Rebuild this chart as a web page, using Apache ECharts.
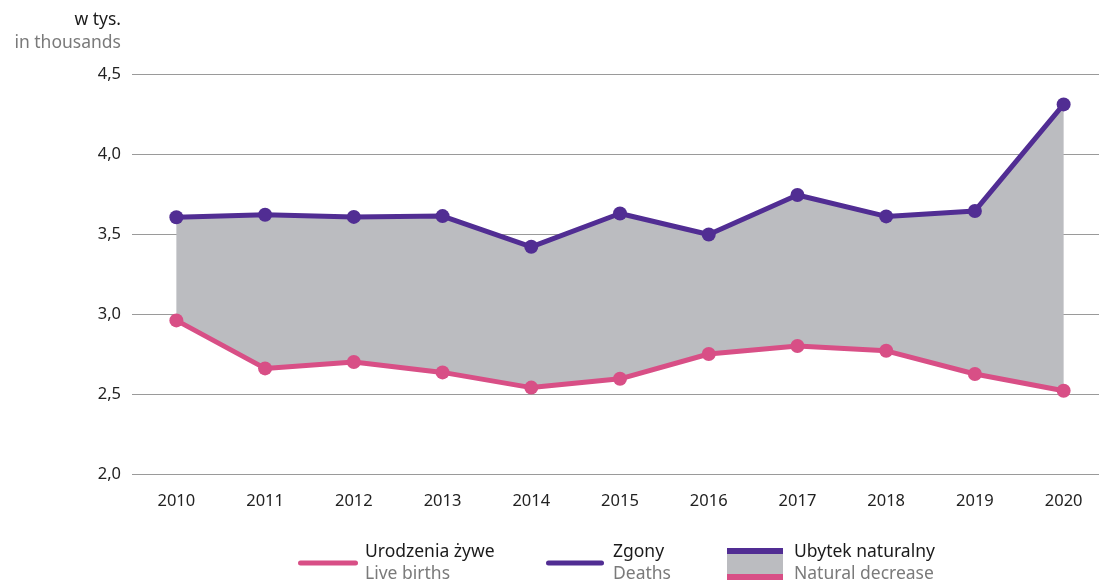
<!DOCTYPE html>
<html>
<head>
<meta charset="utf-8">
<script src="https://cdn.jsdelivr.net/npm/echarts@6/dist/echarts.min.js"></script>
<style>
  html, body { margin: 0; padding: 0; background: #fff; overflow: hidden; }
  /* szerszy niz okno - ostatnia kategoria wychodzi poza prawa krawedz */
  #chart { width: 1108px; height: 583px; }
</style>
</head>
<body>
<div id="chart"></div>
<script>
// lata
var years = ['2010', '2011', '2012', '2013', '2014', '2015', '2016', '2017', '2018', '2019', '2020'];
// w tys.
var births = [2.96, 2.66, 2.70, 2.635, 2.54, 2.595, 2.75, 2.80, 2.77, 2.625, 2.52];
var deaths = [3.605, 3.62, 3.607, 3.612, 3.42, 3.628, 3.497, 3.744, 3.61, 3.644, 4.31];
var yTicks = [2.0, 2.5, 3.0, 3.5, 4.0, 4.5];

var PINK = '#d84f86';
var PURPLE = '#512d93';
var GREY = '#bbbcc0';
var FONT = '"Noto Sans", sans-serif';

// roznica do wypelnienia (ubytek naturalny)
var gap = deaths.map(function (d, i) { return +(d - births[i]).toFixed(3); });

var chart = echarts.init(document.getElementById('chart'));

function legendText(x, top, bottom) {
  return [
    { type: 'text', left: x, top: 543, style: { text: top, fill: '#1a1a1a', font: '17.5px ' + FONT } },
    { type: 'text', left: x, top: 565, style: { text: bottom, fill: '#7a7a7a', font: '17.5px ' + FONT } }
  ];
}

chart.setOption({
  animation: false,
  grid: { left: 132, top: 74, width: 976, height: 400 },
  xAxis: {
    type: 'category',
    data: years,
    boundaryGap: true,
    axisLine: { show: false },
    axisTick: { show: false },
    axisLabel: { color: '#222', fontSize: 16.5, fontFamily: FONT, margin: 19 }
  },
  yAxis: {
    type: 'value',
    min: yTicks[0],
    max: yTicks[yTicks.length - 1],
    interval: 0.5,
    axisLine: { show: false },
    axisTick: { show: false },
    splitLine: { lineStyle: { color: '#9a9a9a', width: 1 } },
    axisLabel: {
      color: '#222', fontSize: 16.5, fontFamily: FONT, margin: 11,
      formatter: function (v) { return v.toFixed(1).replace('.', ','); }
    }
  },
  series: [
    {
      name: 'base', type: 'line', stack: 'fill', data: births,
      symbol: 'none', lineStyle: { opacity: 0 }, silent: true
    },
    {
      name: 'Ubytek naturalny', type: 'line', stack: 'fill', data: gap,
      symbol: 'none', lineStyle: { opacity: 0 }, areaStyle: { color: GREY, opacity: 1 }, silent: true
    },
    {
      name: 'Urodzenia żywe', type: 'line', data: births,
      symbol: 'circle', symbolSize: 14, z: 5,
      lineStyle: { color: PINK, width: 5 }, itemStyle: { color: PINK }
    },
    {
      name: 'Zgony', type: 'line', data: deaths,
      symbol: 'circle', symbolSize: 14, z: 5,
      lineStyle: { color: PURPLE, width: 5 }, itemStyle: { color: PURPLE }
    }
  ],
  graphic: [
    { type: 'text', right: 987, top: 11, style: { text: 'w tys.', fill: '#1a1a1a', font: '17.5px ' + FONT } },
    { type: 'text', right: 987, top: 34, style: { text: 'in thousands', fill: '#7a7a7a', font: '17.5px ' + FONT } },

    { type: 'rect', shape: { x: 298, y: 560.5, width: 60, height: 5, r: 2.5 }, style: { fill: PINK } },
    { type: 'rect', shape: { x: 546, y: 560.5, width: 58, height: 5, r: 2.5 }, style: { fill: PURPLE } },
    { type: 'rect', shape: { x: 727, y: 548, width: 56, height: 32 }, style: { fill: GREY } },
    { type: 'rect', shape: { x: 727, y: 548, width: 56, height: 6 }, style: { fill: PURPLE } },
    { type: 'rect', shape: { x: 727, y: 574, width: 56, height: 6 }, style: { fill: PINK } }
  ].concat(
    legendText(365, 'Urodzenia żywe', 'Live births'),
    legendText(613, 'Zgony', 'Deaths'),
    legendText(794, 'Ubytek naturalny', 'Natural decrease')
  )
});
</script>
</body>
</html>
